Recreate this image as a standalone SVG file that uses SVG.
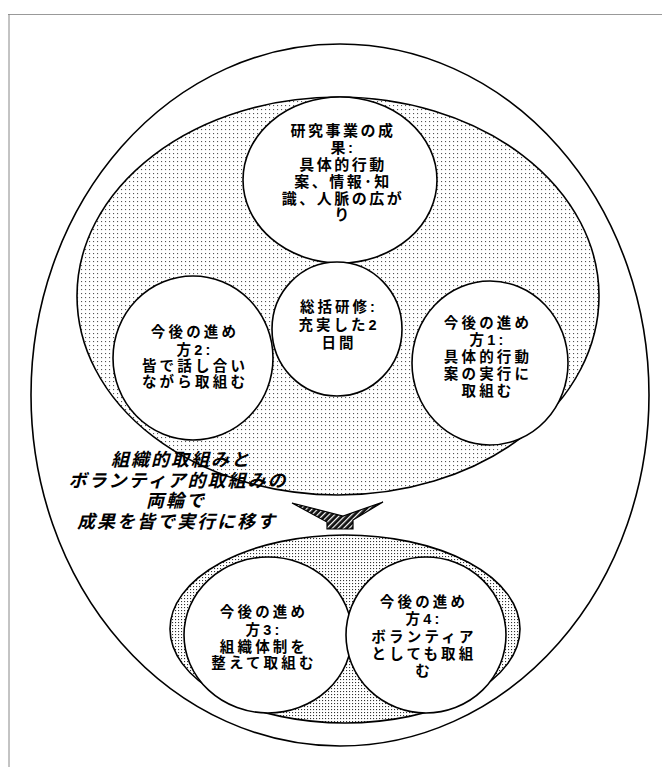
<svg xmlns="http://www.w3.org/2000/svg" width="662" height="767" viewBox="0 0 662 767">
<defs>
<pattern id="dots" width="4" height="4" patternUnits="userSpaceOnUse">
<rect width="4" height="4" fill="#fff"/>
<rect x="1" y="1" width="1.1" height="1.1" fill="#555"/>
</pattern>
<pattern id="dots2" width="3" height="3" patternUnits="userSpaceOnUse">
<rect width="3" height="3" fill="#fff"/>
<rect x="1" y="1" width="1.1" height="1.1" fill="#333"/>
</pattern>
<pattern id="hatch" width="4" height="4" patternUnits="userSpaceOnUse" patternTransform="rotate(45)">
<rect width="4" height="4" fill="#111"/>
<rect x="0" y="0" width="1.2" height="4" fill="#fff"/>
</pattern>
</defs>
<style>
.sh{stroke:#000;stroke-width:1.6;}
.w{fill:#fff;}
.t{font-family:"Liberation Sans","Noto Sans CJK JP",sans-serif;font-weight:bold;font-size:14.5px;letter-spacing:3.2px;text-anchor:middle;fill:#000;}
.big{font-family:"Liberation Sans","Noto Sans CJK JP",sans-serif;font-weight:bold;font-style:italic;font-size:18px;letter-spacing:2px;text-anchor:middle;fill:#000;}
</style>
<rect width="662" height="767" fill="#fff"/>
<line x1="8" y1="14.5" x2="662" y2="14.5" stroke="#999" stroke-width="1"/>
<line x1="9" y1="14" x2="9" y2="767" stroke="#888" stroke-width="1"/>

<g id="outer"><ellipse class="sh w" cx="340" cy="395" rx="309" ry="351"/></g>
<g id="upper-group"><ellipse class="sh" fill="url(#dots)" cx="338" cy="296" rx="261" ry="199"/></g>

<g id="node-result">
<ellipse class="sh w" cx="340" cy="180" rx="97" ry="83"/>
<text class="t" style="font-size:15px;letter-spacing:2.5px"><tspan x="343" y="136">研究事業の成</tspan><tspan x="343" y="153">果:</tspan><tspan x="343" y="170">具体的行動</tspan><tspan x="343" y="187">案、情報･知</tspan><tspan x="343" y="204">識、人脈の広が</tspan><tspan x="343" y="220">り</tspan></text>
</g>

<g id="node-center">
<ellipse class="sh w" cx="337" cy="329" rx="65" ry="67"/>
<text class="t" style="letter-spacing:3px"><tspan x="339" y="312">総括研修:</tspan><tspan x="339" y="330">充実した2</tspan><tspan x="339" y="348">日間</tspan></text>
</g>

<g id="node-way2">
<ellipse class="sh w" cx="193" cy="358" rx="80" ry="82"/>
<text class="t"><tspan x="195" y="337">今後の進め</tspan><tspan x="195" y="355">方2:</tspan><tspan x="195" y="371">皆で話し合い</tspan><tspan x="195" y="387">ながら取組む</tspan></text>
</g>

<g id="node-way1">
<ellipse class="sh w" cx="490" cy="363" rx="78" ry="82"/>
<text class="t"><tspan x="488" y="328">今後の進め</tspan><tspan x="488" y="345">方1:</tspan><tspan x="488" y="362">具体的行動</tspan><tspan x="488" y="379">案の実行に</tspan><tspan x="488" y="396">取組む</tspan></text>
</g>

<g id="label-main">
<text class="big"><tspan x="181" y="466">組織的取組みと</tspan><tspan x="178" y="487">ボランティア的取組みの</tspan><tspan x="176" y="507">両輪で</tspan><tspan x="177" y="528">成果を皆で実行に移す</tspan></text>
</g>

<g id="connectors">
<polygon points="292,503 343,516 383,502 353,520 353,529 327,529 327,522" fill="url(#hatch)" stroke="#000" stroke-width="1.2" stroke-linejoin="miter"/>
</g>

<g id="lower-group"><ellipse class="sh" fill="url(#dots2)" cx="345" cy="629" rx="175" ry="94"/></g>

<g id="node-way3">
<ellipse class="sh w" cx="268" cy="635" rx="84" ry="78"/>
<text class="t"><tspan x="264" y="617">今後の進め</tspan><tspan x="264" y="635">方3:</tspan><tspan x="264" y="652">組織体制を</tspan><tspan x="264" y="668">整えて取組む</tspan></text>
</g>

<g id="node-way4">
<ellipse class="sh w" cx="426" cy="635" rx="80" ry="78"/>
<text class="t"><tspan x="424" y="607">今後の進め</tspan><tspan x="424" y="624">方4:</tspan><tspan x="424" y="642">ボランティア</tspan><tspan x="424" y="659">としても取組</tspan><tspan x="424" y="676">む</tspan></text>
</g>
</svg>
